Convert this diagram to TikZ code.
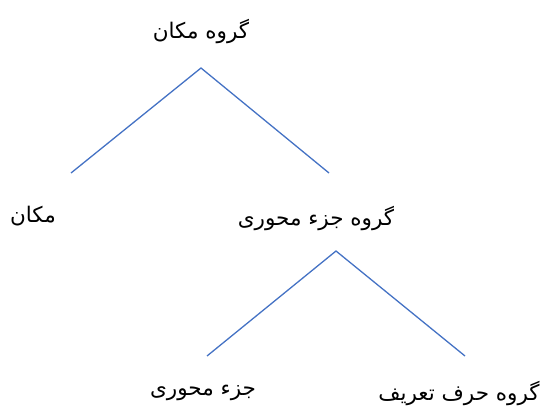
\documentclass[tikz,border=0pt]{standalone}
\usepackage{fontspec}
\newfontfamily\arabicfont[Script=Arabic]{DejaVu Sans}
\TeXXeTstate=1
\definecolor{lineblue}{HTML}{4472C4}
\begin{document}
\begin{tikzpicture}[x=1pt,y=-1pt,
  lbl/.style={font=\arabicfont\fontsize{21.5}{26}\selectfont, inner sep=0pt, anchor=center},
  edge/.style={draw=lineblue, line width=1.3pt}]
\useasboundingbox (0,0) rectangle (545,406);
\node[lbl] (root) at (201,31) {\beginR گروه مکان\endR};
\node[lbl] (makan) at (33,216) {\beginR مکان\endR};
\node[lbl] (grjoz) at (316,218) {\beginR گروه جزء محوری\endR};
\node[lbl] (joz) at (203,393) {\beginR جزء محوری\endR};
\node[lbl] (harf) at (459,393) {\beginR گروه حرف تعریف\endR};
\coordinate (a1) at (201,68);
\coordinate (l1) at (71,173);
\coordinate (r1) at (329,173);
\coordinate (a2) at (336,251);
\coordinate (l2) at (207,356);
\coordinate (r2) at (465,356);
\draw[edge] (l1) -- (a1) -- (r1);
\draw[edge] (l2) -- (a2) -- (r2);
\end{tikzpicture}
\end{document}
